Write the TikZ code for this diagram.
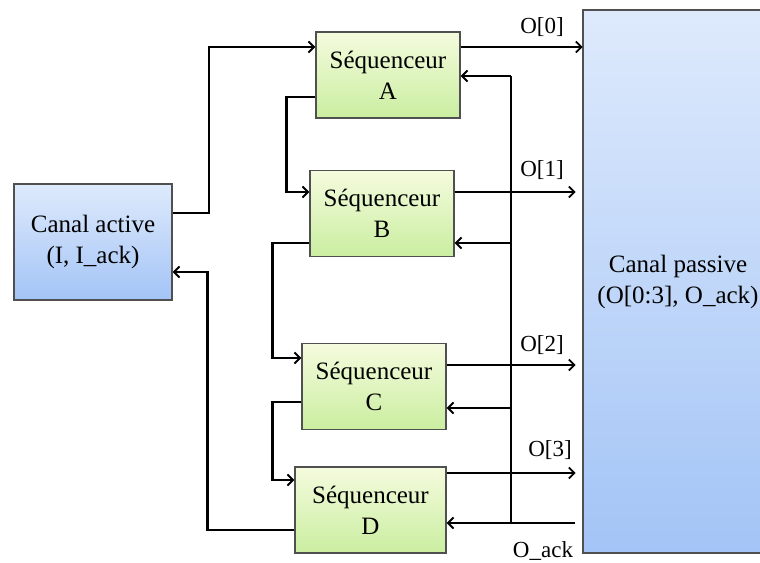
\documentclass[tikz,border=0pt]{standalone}
\usepackage{fontspec}
\setmainfont{Liberation Serif}
\usetikzlibrary{arrows.meta,calc}
\definecolor{bluetop}{RGB}{222,234,252}
\definecolor{bluebot}{RGB}{163,196,246}
\definecolor{greentop}{RGB}{245,251,222}
\definecolor{greenbot}{RGB}{202,238,160}
\definecolor{edgegray}{RGB}{80,80,80}
\tikzset{
  box/.style={draw=edgegray, line width=1.4pt, align=center, inner sep=0pt,
    font=\fontsize{25}{31}\selectfont},
  bluebox/.style={box, top color=bluetop, bottom color=bluebot},
  seqbox/.style={box, top color=greentop, bottom color=greenbot,
    minimum width=144pt, minimum height=86pt},
  wire/.style={line width=2.4pt, black},
  arr/.style={wire, -{Straight Barb[length=5.5pt,width=11pt,line width=1.9pt]}},
  lbl/.style={font=\fontsize{23}{27}\selectfont, inner sep=0pt}
}
\begin{document}
\begin{tikzpicture}[x=1pt,y=-1pt]
\useasboundingbox (0,0) rectangle (760,562);
\fill[white] (0,0) rectangle (760,562);

\node[bluebox, minimum width=158pt, minimum height=116pt] (CA) at (93,242)
  {Canal active\\(I, I\_ack)};
\node[bluebox, minimum width=190pt, minimum height=543pt] (CP) at (678,281.5)
  {Canal passive\\(O[0:3], O\_ack)};

\node[seqbox] (A) at (388,75) {Séquenceur\\A};
\node[seqbox] (B) at (382,213.5) {Séquenceur\\B};
\node[seqbox] (C) at (374,386.5) {Séquenceur\\C};
\node[seqbox, minimum width=151pt] (D) at (370.5,510) {Séquenceur\\D};

% request from active channel to A
\draw[arr] ([yshift=29pt]CA.east) -- ++(36,0) |- ([yshift=28pt]A.west);
% acknowledge back from D to active channel
\draw[arr] ([yshift=-20pt]D.west) -- ++(-87,0) |- ([yshift=-30pt]CA.east);

% sequencing chain
\draw[arr] ([yshift=-22pt]A.west) -- ++(-29,0) |- ([yshift=21.5pt]B.west);
\draw[arr] ([yshift=-29.5pt]B.west) -- ++(-37,0) |- ([yshift=28.5pt]C.west);
\draw[arr] ([yshift=-15.5pt]C.west) -- ++(-29,0) |- ([yshift=30pt]D.west);

% outputs
\draw[arr] ([yshift=28pt]A.east) -- ++(122,0);
\draw[arr] ([yshift=21.5pt]B.east) -- ++(121,0);
\draw[arr] ([yshift=21.5pt]C.east) -- ++(129,0);
\draw[arr] ([yshift=37pt]D.east) -- ++(129,0);

% acknowledge bus
\coordinate (ackin) at (575,523);
\coordinate (busT) at (511,76);
\coordinate (busB) at (511,523);
\coordinate (aA) at ([yshift=-1pt]A.east);
\coordinate (aB) at ([yshift=-29.5pt]B.east);
\coordinate (aC) at ([yshift=-21.5pt]C.east);
\draw[wire] (busT) -- (busB);
\draw[arr] (ackin) -- ([yshift=-13pt]D.east);
\draw[arr] (busT) -- (aA);
\draw[arr] (busT |- aB) -- (aB);
\draw[arr] (busT |- aC) -- (aC);

% labels
\node[lbl] (l0) at (542,27) {O[0]};
\node[lbl] (l1) at (542,170) {O[1]};
\node[lbl] (l2) at (542,345) {O[2]};
\node[lbl] (l3) at (550,450) {O[3]};
\node[lbl] (l4) at (543,551) {O\_ack};
\end{tikzpicture}
\end{document}
